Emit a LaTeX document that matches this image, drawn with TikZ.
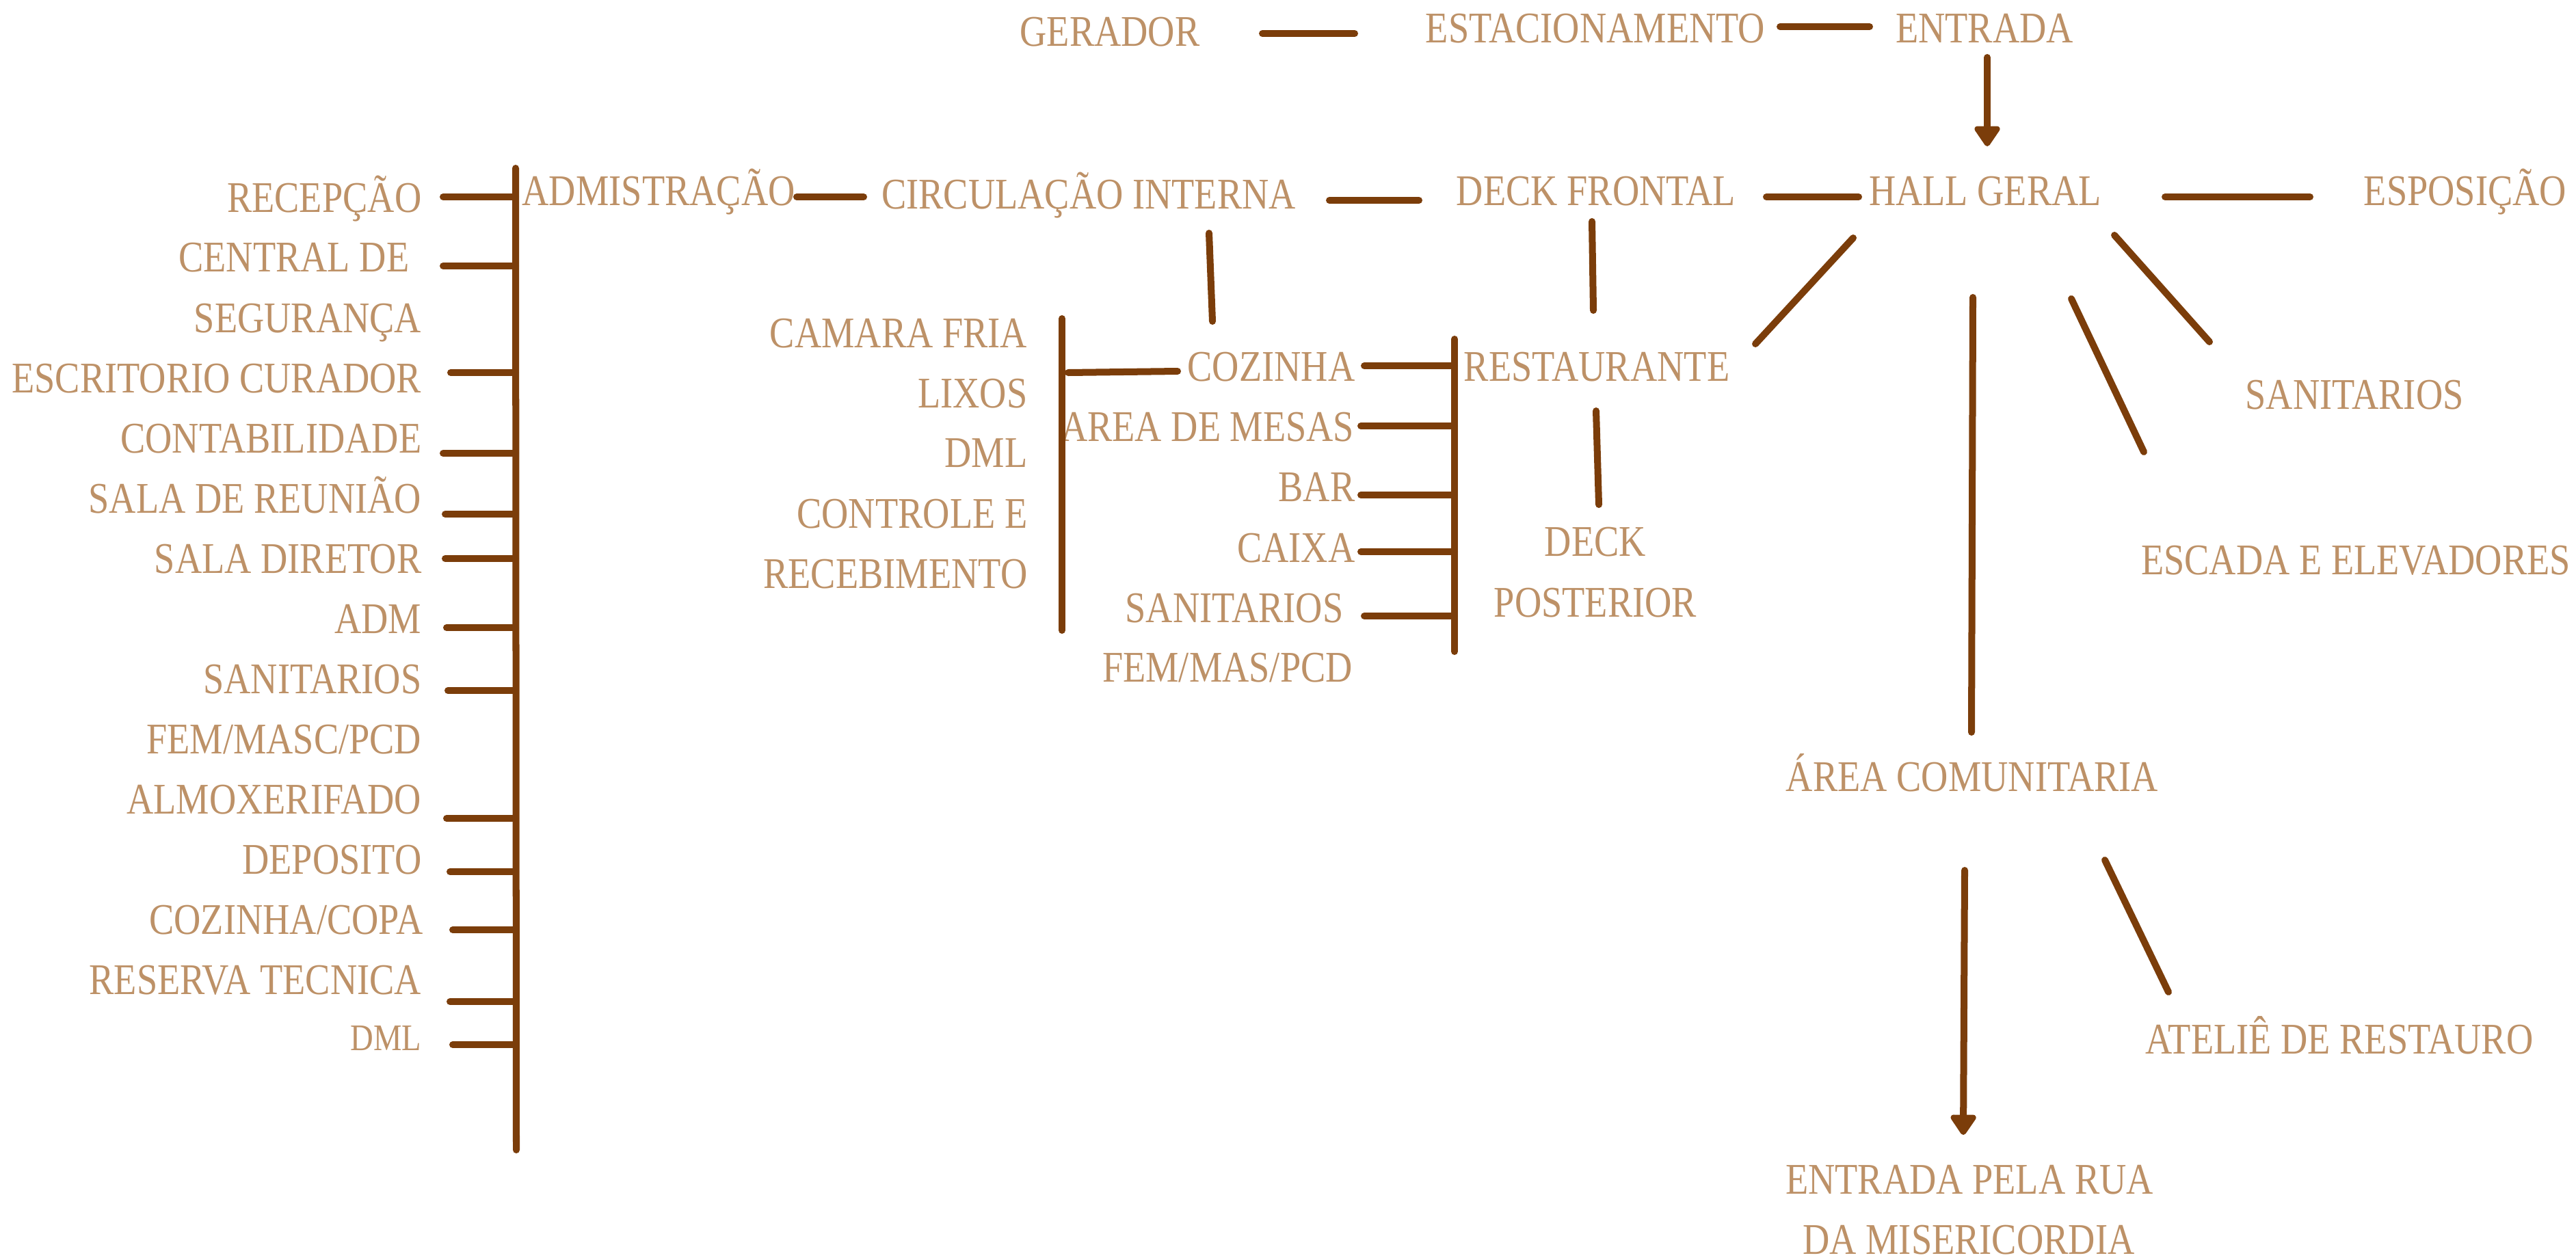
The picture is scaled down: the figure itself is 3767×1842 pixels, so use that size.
\documentclass[tikz,border=0pt]{standalone}
\usepackage{fontspec}
\setmainfont{Liberation Serif}[FakeStretch=0.85]
\usetikzlibrary{arrows.meta}
\definecolor{txtc}{HTML}{BD9167}
\definecolor{lnc}{HTML}{7B3D0A}
\begin{document}
\begin{tikzpicture}[x=0.01cm,y=-0.01cm,
  lbl/.style={text=txtc, inner sep=0pt, font=\fontsize{18.2pt}{22pt}\selectfont},
  smlbl/.style={lbl, font=\fontsize{15.6pt}{19pt}\selectfont},
  ln/.style={draw=lnc, line width=0.1cm, line cap=round},
  arr/.style={ln, -{Triangle[width=0.42cm,length=0.33cm,round]}}]
\fill[white] (0,0) rectangle (3767,1842);
\useasboundingbox (0,0) rectangle (3767,1842);

% ---------- top row ----------
\node[lbl,anchor=base] (gerador) at (1623,67) {GERADOR};
\node[lbl,anchor=base] (estac) at (2333,62) {ESTACIONAMENTO};
\node[lbl,anchor=base] (entrada) at (2902,62) {ENTRADA};

% ---------- second row ----------
\node[lbl,anchor=base west] (admin) at (763,300) {ADMISTRAÇÃO};
\node[lbl,anchor=base] (circ) at (1592,305) {CIRCULAÇÃO INTERNA};
\node[lbl,anchor=base] (deckf) at (2334,300) {DECK FRONTAL};
\node[lbl,anchor=base] (hall) at (2903,300) {HALL GERAL};
\node[lbl,anchor=base] (espo) at (3605,300) {ESPOSIÇÃO};

% ---------- administration list ----------
\node[lbl,anchor=base east] (recep) at (617,310) {RECEPÇÃO};
\node[lbl,anchor=base east] (central) at (599,397) {CENTRAL DE};
\node[lbl,anchor=base east] (segur) at (617,486) {SEGURANÇA};
\node[lbl,anchor=base east] (escrit) at (617,574) {ESCRITORIO CURADOR};
\node[lbl,anchor=base east] (contab) at (617,662) {CONTABILIDADE};
\node[lbl,anchor=base east] (reuniao) at (617,750) {SALA DE REUNIÃO};
\node[lbl,anchor=base east] (diretor) at (617,838) {SALA DIRETOR};
\node[lbl,anchor=base east] (adm) at (617,926) {ADM};
\node[lbl,anchor=base east] (sanadm) at (617,1014) {SANITARIOS};
\node[lbl,anchor=base east] (femadm) at (617,1102) {FEM/MASC/PCD};
\node[lbl,anchor=base east] (almox) at (617,1190) {ALMOXERIFADO};
\node[lbl,anchor=base east] (depos) at (617,1278) {DEPOSITO};
\node[lbl,anchor=base east] (copa) at (619,1366) {COZINHA/COPA};
\node[lbl,anchor=base east] (reserva) at (617,1454) {RESERVA TECNICA};
\node[smlbl,anchor=base east] (dmladm) at (617,1536) {DML};

% ---------- kitchen list ----------
\node[lbl,anchor=base east] (camara) at (1503,508) {CAMARA FRIA};
\node[lbl,anchor=base east] (lixos) at (1503,596) {LIXOS};
\node[lbl,anchor=base east] (dmlk) at (1503,683) {DML};
\node[lbl,anchor=base east] (controle) at (1503,772) {CONTROLE E};
\node[lbl,anchor=base east] (receb) at (1503,860) {RECEBIMENTO};

% ---------- restaurant list ----------
\node[lbl,anchor=base east] (cozinha) at (1982,557) {COZINHA};
\node[lbl,anchor=base east] (mesas) at (1981,645) {AREA DE MESAS};
\node[lbl,anchor=base east] (bar) at (1982,733) {BAR};
\node[lbl,anchor=base east] (caixa) at (1982,822) {CAIXA};
\node[lbl,anchor=base] (sanr) at (1805,910) {SANITARIOS};
\node[lbl,anchor=base] (femr) at (1795,997) {FEM/MAS/PCD};
\node[lbl,anchor=base] (rest) at (2335,557) {RESTAURANTE};
\node[lbl,anchor=base] (deckp1) at (2333,813) {DECK};
\node[lbl,anchor=base] (deckp2) at (2333,902) {POSTERIOR};

% ---------- right part ----------
\node[lbl,anchor=base] (sanh) at (3443,598) {SANITARIOS};
\node[lbl,anchor=base] (escada) at (3445,840) {ESCADA E ELEVADORES};
\node[lbl,anchor=base] (area) at (2884,1157) {ÁREA COMUNITARIA};
\node[lbl,anchor=base] (atelie) at (3421,1541) {ATELIÊ DE RESTAURO};
\node[lbl,anchor=base] (erua1) at (2880,1746) {ENTRADA PELA RUA};
\node[lbl,anchor=base] (erua2) at (2879,1834) {DA MISERICORDIA};

% ---------- connector end points ----------
\coordinate (gA) at (1846,49);  \coordinate (gB) at (1981,49);
\coordinate (eA) at (2603,39);  \coordinate (eB) at (2734,39);
\coordinate (enA) at (2906,84); \coordinate (enB) at (2906,214);
\coordinate (acA) at (1165,288); \coordinate (acB) at (1263,288);
\coordinate (cdA) at (1944,293); \coordinate (cdB) at (2075,293);
\coordinate (dhA) at (2583,288); \coordinate (dhB) at (2718,288);
\coordinate (heA) at (3166,288); \coordinate (heB) at (3378,288);
% admin spine
\coordinate (spT) at (754,246); \coordinate (spB) at (755,1682);
\foreach \nm/\xx/\yy in {t1/648/288, t2/648/389, t3/659/545, t4/648/663,
   t5/651/752, t6/651/817, t7/653/918, t8/655/1010, t9/653/1197,
   t10/658/1275, t11/662/1360, t12/658/1465, t13/662/1528}{
  \coordinate (\nm a) at (\xx,\yy); \coordinate (\nm b) at (754,\yy);
}
% kitchen
\coordinate (ciA) at (1768,341); \coordinate (ciB) at (1773,470);
\coordinate (ksT) at (1553,466); \coordinate (ksB) at (1553,922);
\coordinate (kcA) at (1562,545); \coordinate (kcB) at (1722,543);
% restaurant
\coordinate (dfA) at (2328,324); \coordinate (dfB) at (2330,454);
\coordinate (rsT) at (2127,496); \coordinate (rsB) at (2127,953);
\foreach \nm/\xx/\yy in {r1/1995/535, r2/1990/623, r3/1990/724, r4/1990/807, r5/1995/901}{
  \coordinate (\nm a) at (\xx,\yy); \coordinate (\nm b) at (2127,\yy);
}
\coordinate (dpA) at (2334,601); \coordinate (dpB) at (2338,738);
\coordinate (hrA) at (2710,348); \coordinate (hrB) at (2567,503);
% hall fan
\coordinate (hsA) at (3092,344); \coordinate (hsB) at (3231,500);
\coordinate (hcA) at (3029,437); \coordinate (hcB) at (3135,661);
\coordinate (haA) at (2885,435); \coordinate (haB) at (2883,1071);
\coordinate (arA) at (2873,1273); \coordinate (arB) at (2871,1660);
\coordinate (atA) at (3078,1258); \coordinate (atB) at (3171,1451);

% ---------- connectors ----------
\draw[ln] (gA) -- (gB);
\draw[ln] (eA) -- (eB);
\draw[arr] (enA) -- (enB);
\draw[ln] (acA) -- (acB);
\draw[ln] (cdA) -- (cdB);
\draw[ln] (dhA) -- (dhB);
\draw[ln] (heA) -- (heB);
\draw[ln] (spT) -- (spB);
\foreach \nm in {t1,t2,t3,t4,t5,t6,t7,t8,t9,t10,t11,t12,t13}{
  \draw[ln] (\nm a) -- (\nm b);
}
\draw[ln] (ciA) -- (ciB);
\draw[ln] (ksT) -- (ksB);
\draw[ln] (kcA) -- (kcB);
\draw[ln] (dfA) -- (dfB);
\draw[ln] (rsT) -- (rsB);
\foreach \nm in {r1,r2,r3,r4,r5}{
  \draw[ln] (\nm a) -- (\nm b);
}
\draw[ln] (dpA) -- (dpB);
\draw[ln] (hrA) -- (hrB);
\draw[ln] (hsA) -- (hsB);
\draw[ln] (hcA) -- (hcB);
\draw[ln] (haA) -- (haB);
\draw[arr] (arA) -- (arB);
\draw[ln] (atA) -- (atB);
\end{tikzpicture}
\end{document}
